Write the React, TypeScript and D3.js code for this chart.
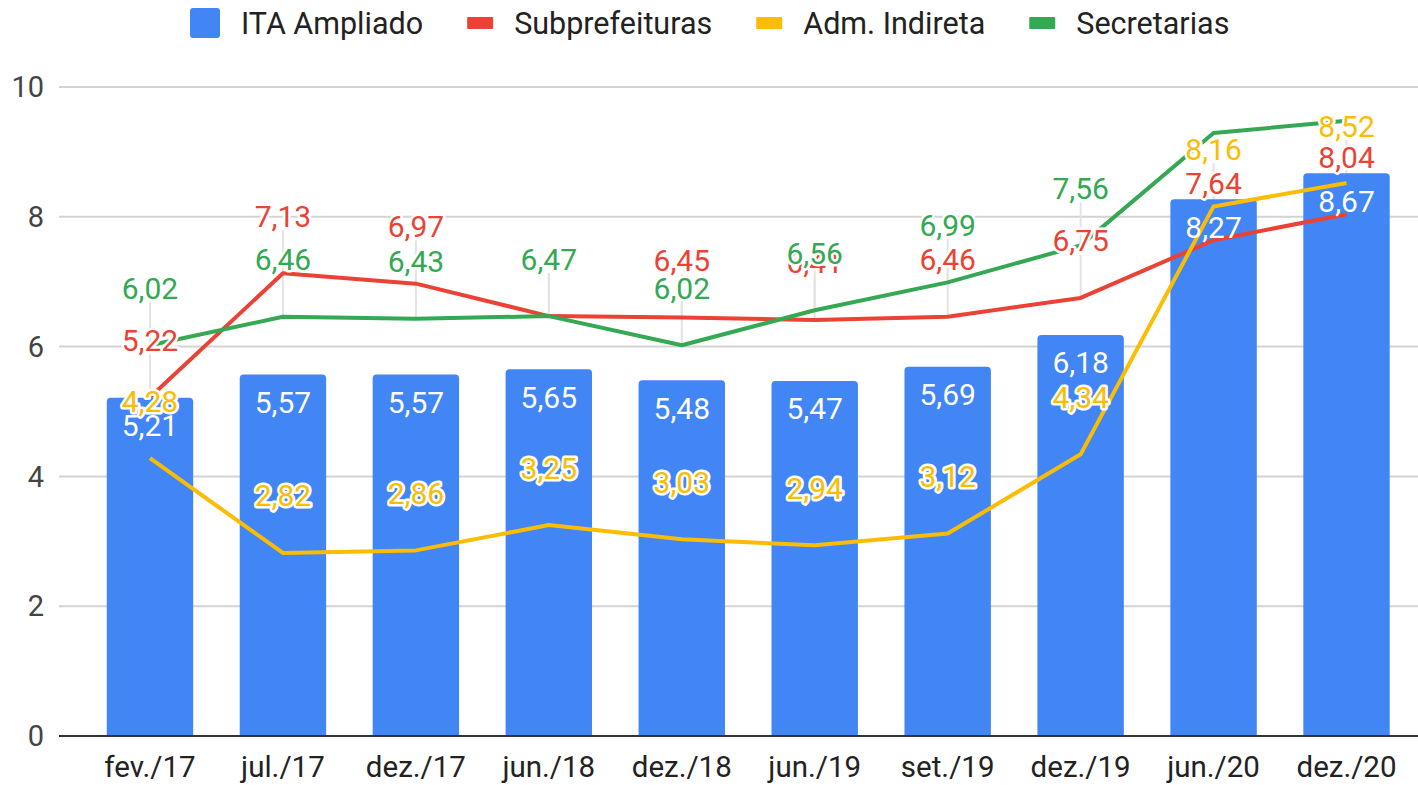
import React, { useEffect, useRef } from "react";
import * as d3 from "d3";

const categories = ["fev./17", "jul./17", "dez./17", "jun./18", "dez./18", "jun./19", "set./19", "dez./19", "jun./20", "dez./20"];
const itaAmpliado = [5.21, 5.57, 5.57, 5.65, 5.48, 5.47, 5.69, 6.18, 8.27, 8.67];
const subprefeituras = [5.22, 7.13, 6.97, 6.47, 6.45, 6.41, 6.46, 6.75, 7.64, 8.04];
const admIndireta = [4.28, 2.82, 2.86, 3.25, 3.03, 2.94, 3.12, 4.34, 8.16, 8.52];
const secretarias = [6.02, 6.46, 6.43, 6.47, 6.02, 6.56, 6.99, 7.56, 9.29, 9.48];
const yTicks = [0, 2, 4, 6, 8, 10];

const lineSeries = [
  { name: "Subprefeituras", values: subprefeituras, color: "#EA4335" },
  { name: "Adm. Indireta", values: admIndireta, color: "#FBBC04" },
  { name: "Secretarias", values: secretarias, color: "#34A853" },
];
const barColor = "#4285F4";

const W = 1418;
const H = 785;
const fmt = (v: number) => v.toFixed(2).replace(".", ",");

export default function App() {
  const ref = useRef<SVGSVGElement>(null);

  useEffect(() => {
    const svg = d3.select(ref.current);
    svg.selectAll("*").remove();
    const font = "Roboto, Arial, sans-serif";

    const top = 87, bottom = 736, gridLeft = 59;
    const y = d3.scaleLinear().domain([0, 10]).range([bottom, top]);
    const x = d3
      .scaleBand()
      .domain(categories)
      .range([83.5, 1413])
      .paddingInner(0.35)
      .paddingOuter(0.175);
    const cx = (c: string) => (x(c) as number) + x.bandwidth() / 2;

    // gridlines
    svg
      .append("g")
      .selectAll("line")
      .data(yTicks.filter(t => t > 0))
      .enter()
      .append("line")
      .attr("x1", gridLeft)
      .attr("x2", W)
      .attr("y1", d => y(d))
      .attr("y2", d => y(d))
      .attr("stroke", "#d3d3d3")
      .attr("stroke-width", 2);

    // y axis labels
    svg
      .append("g")
      .selectAll("text")
      .data(yTicks)
      .enter()
      .append("text")
      .attr("x", 44)
      .attr("y", d => y(d))
      .attr("dy", "0.35em")
      .attr("text-anchor", "end")
      .attr("font-family", font)
      .attr("font-size", 29)
      .attr("fill", "#444")
      .text(d => d);

    // annotation stems (under bars)
    const labelOffset = 57;
    const stems = svg.append("g");
    lineSeries.forEach(s => {
      s.values.forEach((v, i) => {
        const ly = y(v) - labelOffset;
        if (ly < top) return;
        stems
          .append("line")
          .attr("x1", cx(categories[i]))
          .attr("x2", cx(categories[i]))
          .attr("y1", y(v))
          .attr("y2", ly + 14)
          .attr("stroke", "#e3e3e3")
          .attr("stroke-width", 2);
      });
    });

    // bars with rounded top corners
    const r = 4;
    svg
      .append("g")
      .selectAll("path")
      .data(itaAmpliado)
      .enter()
      .append("path")
      .attr("fill", barColor)
      .attr("d", (d, i) => {
        const x0 = x(categories[i]) as number;
        const w = x.bandwidth();
        const y0 = y(d);
        return `M${x0},${bottom}V${y0 + r}Q${x0},${y0} ${x0 + r},${y0}H${x0 + w - r}Q${x0 + w},${y0} ${x0 + w},${y0 + r}V${bottom}Z`;
      });

    // baseline
    svg
      .append("line")
      .attr("x1", gridLeft)
      .attr("x2", W)
      .attr("y1", bottom)
      .attr("y2", bottom)
      .attr("stroke", "#333")
      .attr("stroke-width", 2);

    // x axis labels
    svg
      .append("g")
      .selectAll("text")
      .data(categories)
      .enter()
      .append("text")
      .attr("x", d => cx(d))
      .attr("y", 767)
      .attr("dy", "0.35em")
      .attr("text-anchor", "middle")
      .attr("font-family", font)
      .attr("font-size", 29.5)
      .attr("fill", "#222")
      .text(d => d);

    // lines
    const line = d3
      .line<number>()
      .x((d, i) => cx(categories[i]))
      .y(d => y(d));
    lineSeries.forEach(s => {
      svg
        .append("path")
        .datum(s.values)
        .attr("d", line)
        .attr("fill", "none")
        .attr("stroke", s.color)
        .attr("stroke-width", 4)
        .attr("stroke-linejoin", "round");
    });

    // bar labels
    svg
      .append("g")
      .selectAll("text")
      .data(itaAmpliado)
      .enter()
      .append("text")
      .attr("x", (d, i) => cx(categories[i]))
      .attr("y", d => y(d) + 28)
      .attr("dy", "0.35em")
      .attr("text-anchor", "middle")
      .attr("font-family", font)
      .attr("font-size", 30)
      .attr("fill", "#fff")
      .text(d => fmt(d));

    // line labels with white halo
    lineSeries.forEach(s => {
      const g = svg.append("g");
      s.values.forEach((v, i) => {
        const ly = y(v) - labelOffset;
        if (ly < top) return;
        g.append("text")
          .attr("x", cx(categories[i]))
          .attr("y", ly)
          .attr("dy", "0.35em")
          .attr("text-anchor", "middle")
          .attr("font-family", font)
          .attr("font-size", 30)
          .attr("fill", s.color)
          .attr("stroke", "#fff")
          .attr("stroke-width", 5)
          .attr("stroke-linejoin", "round")
          .attr("paint-order", "stroke")
          .text(fmt(v));
      });
    });

    // legend
    const legendItems = [
      { name: "ITA Ampliado", color: barColor, bar: true },
      ...lineSeries.map(s => ({ name: s.name, color: s.color, bar: false })),
    ];
    const legend = svg.append("g");
    let lx = 190;
    const ly = 23;
    legendItems.forEach(item => {
      const iw = item.bar ? 30 : 26;
      const ih = item.bar ? 30 : 12;
      legend
        .append("rect")
        .attr("x", lx)
        .attr("y", ly - ih / 2)
        .attr("width", iw)
        .attr("height", ih)
        .attr("rx", item.bar ? 3 : 1)
        .attr("fill", item.color);
      lx += iw + 21;
      const t = legend
        .append("text")
        .attr("x", lx)
        .attr("y", ly)
        .attr("dy", "0.35em")
        .attr("font-family", font)
        .attr("font-size", 30.5)
        .attr("fill", "#222")
        .text(item.name);
      const tw = (t.node() as SVGTextElement).getComputedTextLength();
      lx += tw + 44;
    });
  }, []);

  return (
    <svg
      ref={ref}
      width={W}
      height={H}
      style={{ position: "absolute", left: 0, top: 0, background: "#fff" }}
    />
  );
}
